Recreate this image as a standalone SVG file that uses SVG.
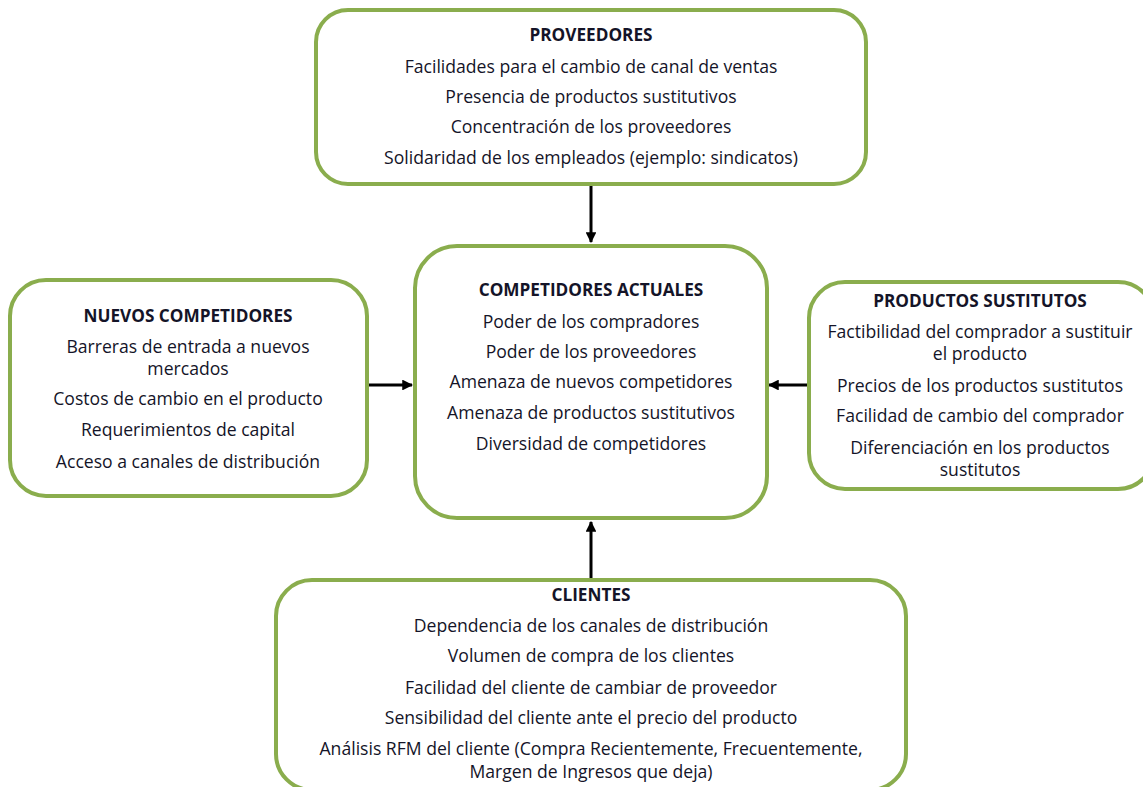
<svg xmlns="http://www.w3.org/2000/svg" width="1143" height="787" viewBox="0 0 1143 787">
<style>
.box{fill:#fff;stroke:#8aad4d;stroke-width:4}
.t{font-family:"Open Sans","Liberation Sans",Arial,sans-serif;font-size:17.6px;fill:#141428;text-anchor:middle}
.h{font-weight:bold;font-size:17.2px}
.c{stroke:#000;stroke-width:3;fill:none}
</style>
<defs>
<marker id="ah" viewBox="0 0 10 10" refX="9" refY="5" markerWidth="3.6" markerHeight="3.6" orient="auto" markerUnits="strokeWidth">
<path d="M0,0 L10,5 L0,10 z" fill="#000"/>
</marker>
</defs>
<rect width="1143" height="787" fill="#fff"/>
<g id="connectors">
<line class="c" x1="591" y1="186" x2="591" y2="242" marker-end="url(#ah)"/>
<line class="c" x1="368" y1="385" x2="412" y2="385" marker-end="url(#ah)"/>
<line class="c" x1="807" y1="385" x2="769" y2="385" marker-end="url(#ah)"/>
<line class="c" x1="591" y1="578" x2="591" y2="522" marker-end="url(#ah)"/>
</g>
<g id="proveedores">
<rect class="box" x="316" y="10" width="550" height="174" rx="32"/>
<text class="t h" x="591" y="41">PROVEEDORES</text>
<text class="t" x="591" y="73">Facilidades para el cambio de canal de ventas</text>
<text class="t" x="591" y="103">Presencia de productos sustitutivos</text>
<text class="t" x="591" y="133">Concentración de los proveedores</text>
<text class="t" x="591" y="164">Solidaridad de los empleados (ejemplo: sindicatos)</text>
</g>
<g id="competidores">
<rect class="box" x="415" y="246" width="352" height="272" rx="42"/>
<text class="t h" x="591" y="296">COMPETIDORES ACTUALES</text>
<text class="t" x="591" y="328">Poder de los compradores</text>
<text class="t" x="591" y="358">Poder de los proveedores</text>
<text class="t" x="591" y="388">Amenaza de nuevos competidores</text>
<text class="t" x="591" y="419">Amenaza de productos sustitutivos</text>
<text class="t" x="591" y="450">Diversidad de competidores</text>
</g>
<g id="nuevos">
<rect class="box" x="10" y="280" width="357" height="216" rx="36"/>
<text class="t h" x="188" y="322">NUEVOS COMPETIDORES</text>
<text class="t" x="188" y="352.5">Barreras de entrada a nuevos<tspan x="188" dy="22">mercados</tspan></text>
<text class="t" x="188" y="405">Costos de cambio en el producto</text>
<text class="t" x="188" y="436">Requerimientos de capital</text>
<text class="t" x="188" y="468">Acceso a canales de distribución</text>
</g>
<g id="sustitutos">
<rect class="box" x="809" y="282" width="345" height="207" rx="36"/>
<text class="t h" x="980" y="307">PRODUCTOS SUSTITUTOS</text>
<text class="t" x="980" y="338">Factibilidad del comprador a sustituir<tspan x="980" dy="22">el producto</tspan></text>
<text class="t" x="980" y="392">Precios de los productos sustitutos</text>
<text class="t" x="980" y="422">Facilidad  de cambio del comprador</text>
<text class="t" x="980" y="453.5">Diferenciación en los productos<tspan x="980" dy="22">sustitutos</tspan></text>
</g>
<g id="clientes">
<rect class="box" x="276" y="580" width="630" height="210" rx="36"/>
<text class="t h" x="591" y="601">CLIENTES</text>
<text class="t" x="591" y="632">Dependencia de los canales de distribución</text>
<text class="t" x="591" y="662">Volumen de compra de los clientes</text>
<text class="t" x="591" y="694">Facilidad del cliente de cambiar de proveedor</text>
<text class="t" x="591" y="724">Sensibilidad del cliente ante el precio del producto</text>
<text class="t" x="591" y="755">Análisis RFM del cliente (Compra Recientemente, Frecuentemente,<tspan x="591" dy="23">Margen de Ingresos que deja)</tspan></text>
</g>
</svg>
